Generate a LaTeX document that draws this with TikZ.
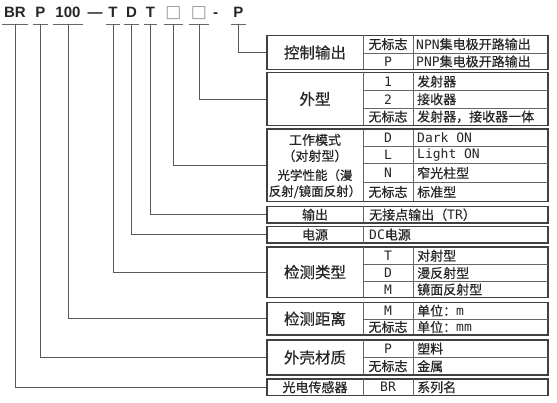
\documentclass[tikz,border=0pt]{standalone}
\usepackage{fontspec}
\newfontfamily\cjk{Noto Sans CJK SC}[FakeBold=0.5]
\newfontfamily\latn{DejaVu Sans Mono}
\newfontfamily\hdr{Liberation Sans}
\newfontfamily\symb{DejaVu Sans}
\usetikzlibrary{fit}

\tikzset{
  codebox/.style={font=\hdr\bfseries\fontsize{15}{16}\selectfont, text=black!85, anchor=base, text depth=0pt, inner xsep=2pt, inner ysep=6pt},
  blank/.style={codebox, font=\symb\fontsize{17}{18}\selectfont, text=black!40, inner xsep=1.5pt},
  uline/.style={draw=black!60, line width=1.2pt},
  conn/.style={draw=black!65, line width=0.8pt},
  grpbox/.style={draw=black!75, line width=1.5pt, inner sep=0pt},
  cell/.style={draw=black!60, line width=0.7pt},
  big/.style={font=\cjk\fontsize{15.5}{17}\selectfont, text=black!85, inner sep=0pt},
  small/.style={font=\cjk\fontsize{13}{16}\selectfont, text=black!85, inner sep=0pt},
  val/.style={small, anchor=west},
}

\begin{document}
\begin{tikzpicture}[x=1pt, y=-1pt]
    \useasboundingbox (0,0) rectangle (557,403);

    % Model code
    \node[codebox] (cBR) at (15,18) {BR};
    \node[codebox] (cMat) at (40.5,18) {P};
    \node[codebox] (cDist) at (68,18) {100};
    \node[codebox] (dash1) at (95,18) {—};
    \node[codebox] (cType) at (113,18) {T};
    \node[codebox] (cPow) at (131.5,18) {D};
    \node[codebox] (cOut) at (150.5,18) {T};
    \node[blank] (cMode) at (173.5,18) {□};
    \node[blank] (cShape) at (199,18) {□};
    \node[codebox] (dash2) at (215.5,18) {-};
    \node[codebox] (cCtrl) at (238.5,18) {P};
    \foreach \c in {cBR,cMat,cDist,cType,cPow,cOut,cMode,cShape,cCtrl}
        \draw[uline] (\c.south west) -- (\c.south east);

    % Control output
    \node[grpbox, fit={(267,35.5) (548,69.5)}] (gCtrl) {};
    \draw[cell] (363,35.5) -- (363,69.5) (413,35.5) -- (413,69.5) (363,53) -- (548,53);
    \node[big] (tCtrl) at (315,52.5) {控制输出};
    \node[small] (kCtrlA) at (388,44.2) {无标志};
    \node[small] (kCtrlB) at (388,61.5) {\latn P};
    \node[val] (vCtrlA) at (416,44.2) {{\latn NPN}集电极开路输出};
    \node[val] (vCtrlB) at (416,61.5) {{\latn PNP}集电极开路输出};

    % Shape
    \node[grpbox, fit={(267,72.5) (548,125.5)}] (gShape) {};
    \draw[cell] (363,72.5) -- (363,125.5) (413,72.5) -- (413,125.5)
        (363,90.5) -- (548,90.5) (363,108) -- (548,108);
    \node[big] (tShape) at (315,99) {外型};
    \node[small] (kShapeA) at (388,81.5) {\latn 1};
    \node[small] (kShapeB) at (388,99.2) {\latn 2};
    \node[small] (kShapeC) at (388,116.7) {无标志};
    \node[val] (vShapeA) at (417,81.5) {发射器};
    \node[val] (vShapeB) at (417,99.2) {接收器};
    \node[val] (vShapeC) at (417,116.7) {发射器，接收器一体};

    % Mode / optics
    \node[grpbox, fit={(267,129) (548,201.5)}] (gMode) {};
    \draw[cell] (363,129) -- (363,201.5) (413,129) -- (413,201.5)
        (363,146) -- (548,146) (363,163.5) -- (548,163.5) (363,182.5) -- (548,182.5);
    \node[small, align=center] (tModeA) at (315,148) {工作模式\\（对射型）};
    \node[small, align=center, font=\cjk\fontsize{12.5}{16}\selectfont] (tModeB) at (315,183.7) {光学性能（漫\\反射/镜面反射）};
    \node[small] (kModeA) at (388,137.5) {\latn D};
    \node[small] (kModeB) at (388,154.7) {\latn L};
    \node[small] (kModeC) at (388,173) {\latn N};
    \node[small] (kModeD) at (388,192) {无标志};
    \node[val] (vModeA) at (417,137.5) {\latn Dark ON};
    \node[val] (vModeB) at (417,154.7) {\latn Light ON};
    \node[val] (vModeC) at (417,173) {窄光柱型};
    \node[val] (vModeD) at (417,192) {标准型};

    % Output
    \node[grpbox, fit={(267,206.5) (548,223)}] (gOut) {};
    \draw[cell] (363,206.5) -- (363,223);
    \node[small] (tOut) at (315,214.7) {输出};
    \node[val] (vOut) at (369,214.7) {无接点输出（{\latn TR}）};

    % Power
    \node[grpbox, fit={(267,226.5) (548,243)}] (gPow) {};
    \draw[cell] (363,226.5) -- (363,243);
    \node[small] (tPow) at (315,234.7) {电源};
    \node[val] (vPow) at (369,234.7) {{\latn DC}电源};

    % Detection type
    \node[grpbox, fit={(267,247) (548,297.5)}] (gType) {};
    \draw[cell] (363,247) -- (363,297.5) (413,247) -- (413,297.5)
        (363,264.5) -- (548,264.5) (363,281.5) -- (548,281.5);
    \node[big] (tType) at (315,272) {检测类型};
    \node[small] (kTypeA) at (388,255.7) {\latn T};
    \node[small] (kTypeB) at (388,273) {\latn D};
    \node[small] (kTypeC) at (388,289.5) {\latn M};
    \node[val] (vTypeA) at (417,255.7) {对射型};
    \node[val] (vTypeB) at (417,273) {漫反射型};
    \node[val] (vTypeC) at (417,289.5) {镜面反射型};

    % Detection distance
    \node[grpbox, fit={(267,302.5) (548,335)}] (gDist) {};
    \draw[cell] (363,302.5) -- (363,335) (413,302.5) -- (413,335) (363,319) -- (548,319);
    \node[big] (tDist) at (315,318.7) {检测距离};
    \node[small] (kDistA) at (388,310.7) {\latn M};
    \node[small] (kDistB) at (388,327) {无标志};
    \node[val] (vDistA) at (417,310.7) {单位：{\latn m}};
    \node[val] (vDistB) at (417,327) {单位：{\latn mm}};

    % Housing material
    \node[grpbox, fit={(267,340) (548,375)}] (gMat) {};
    \draw[cell] (363,340) -- (363,375) (413,340) -- (413,375) (363,357.5) -- (548,357.5);
    \node[big] (tMat) at (315,357.5) {外壳材质};
    \node[small] (kMatA) at (388,348.7) {\latn P};
    \node[small] (kMatB) at (388,366.2) {无标志};
    \node[val] (vMatA) at (417,348.7) {塑料};
    \node[val] (vMatB) at (417,366.2) {金属};

    % Series
    \node[grpbox, fit={(267,379) (548,395.5)}] (gSer) {};
    \draw[cell] (363,379) -- (363,395.5) (413,379) -- (413,395.5);
    \node[small] (tSer) at (315,387.2) {光电传感器};
    \node[small] (kSer) at (388,387.2) {\latn BR};
    \node[val] (vSer) at (417,387.2) {系列名};

    % Connectors
    \draw[conn] (cCtrl.south) |- (gCtrl.west);
    \draw[conn] (cShape.south) |- (gShape.west);
    \draw[conn] (cMode.south) |- (gMode.west);
    \draw[conn] (cOut.south) |- (gOut.west);
    \draw[conn] (cPow.south) |- (gPow.west);
    \draw[conn] (cType.south) |- (gType.west);
    \draw[conn] (cDist.south) |- (gDist.west);
    \draw[conn] (cMat.south) |- (gMat.west);
    \draw[conn] (cBR.south) |- (gSer.west);
\end{tikzpicture}
\end{document}
